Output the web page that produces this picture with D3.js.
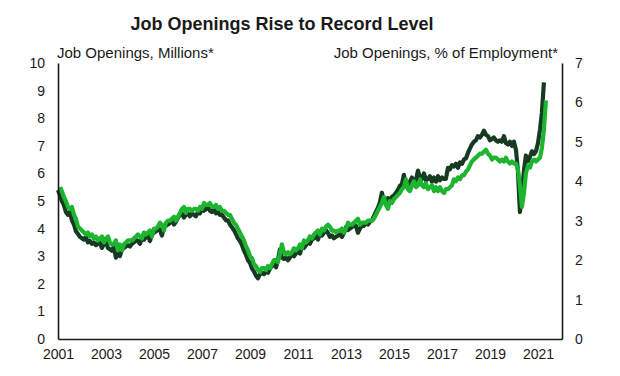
<!DOCTYPE html>
<html><head><meta charset="utf-8">
<script src="https://cdn.jsdelivr.net/npm/d3@7"></script>
<style>
body{margin:0;background:#fff}
text{font-family:"Liberation Sans",Arial,sans-serif;fill:#1a1a1a}
</style>
</head><body>
<svg id="c" width="620" height="376"></svg>
<script>
// ---- data ----
const firstMonth = "2001-01";   // monthly data Jan 2001 .. Apr 2021
const title = "Job Openings Rise to Record Level";
const leftLabel = "Job Openings, Millions*";
const rightLabel = "Job Openings, % of Employment*";
const xTickYears = [2001,2003,2005,2007,2009,2011,2013,2015,2017,2019,2021];
const leftTicks = [0,1,2,3,4,5,6,7,8,9,10];
const rightTicks = [0,1,2,3,4,5,6,7];

// Job openings, millions
const openings = [
 5.4,5.2,5.0,4.85,4.6,4.5,4.6,4.3,4.15,3.9,3.8,3.7,          // 2001
 3.65,3.6,3.7,3.5,3.55,3.45,3.5,3.4,3.45,3.5,3.3,3.45,       // 2002
 3.5,3.3,3.25,3.2,3.35,2.95,3.2,3.0,3.25,3.3,3.35,3.4,       // 2003
 3.35,3.45,3.5,3.6,3.55,3.45,3.65,3.6,3.7,3.75,3.55,3.8,     // 2004
 3.85,3.9,4.05,3.95,3.75,4.05,4.1,4.15,4.2,4.3,4.15,4.25,    // 2005
 4.4,4.5,4.55,4.4,4.5,4.55,4.45,4.55,4.5,4.45,4.6,4.55,      // 2006
 4.75,4.65,4.7,4.8,4.65,4.6,4.7,4.55,4.6,4.5,4.5,4.4,        // 2007
 4.3,4.3,4.15,4.05,3.95,3.8,3.65,3.55,3.4,3.2,3.05,2.85,     // 2008
 2.75,2.55,2.45,2.3,2.2,2.35,2.4,2.35,2.45,2.4,2.55,2.65,    // 2009
 2.7,2.6,2.85,3.25,2.95,2.9,2.95,2.85,2.95,3.1,3.0,3.1,      // 2010
 3.2,3.1,3.35,3.3,3.4,3.5,3.45,3.6,3.65,3.75,3.6,3.8,        // 2011
 3.75,3.85,3.95,3.85,3.7,3.75,3.65,3.7,3.75,3.8,3.7,3.85,    // 2012
 4.05,3.95,4.0,4.05,4.15,4.1,3.85,4.0,4.1,4.1,4.2,4.15,      // 2013
 4.25,4.3,4.45,4.6,4.75,4.95,5.3,5.0,4.95,5.1,5.05,5.15,     // 2014
 5.2,5.3,5.4,5.55,5.6,5.95,5.55,5.5,5.7,5.85,5.65,5.75,      // 2015
 6.1,5.85,5.8,6.0,5.75,5.8,5.9,5.7,5.85,5.7,5.9,5.75,        // 2016
 5.85,5.8,5.8,6.2,6.15,6.3,6.25,6.35,6.2,6.4,6.35,6.5,       // 2017
 6.55,6.75,6.9,7.05,7.15,7.2,7.35,7.3,7.4,7.55,7.4,7.35,     // 2018
 7.2,7.25,7.3,7.2,7.15,7.2,7.15,7.35,7.1,7.05,7.15,7.0,      // 2019
 7.15,6.85,6.1,4.6,5.3,6.1,6.65,6.45,6.6,6.8,6.7,6.8,        // 2020
 7.1,7.6,8.2,9.3                                             // 2021
];

// Job openings, % of employment
const rate = [
 3.85,3.75,3.6,3.5,3.35,3.3,3.35,3.15,3.05,2.85,2.8,2.75,    // 2001
 2.7,2.65,2.7,2.6,2.65,2.55,2.6,2.5,2.55,2.6,2.45,2.55,      // 2002
 2.6,2.45,2.4,2.4,2.5,2.25,2.4,2.25,2.4,2.45,2.5,2.5,        // 2003
 2.5,2.55,2.6,2.65,2.6,2.55,2.7,2.65,2.7,2.75,2.6,2.8,       // 2004
 2.8,2.85,2.95,2.9,2.75,2.95,3.0,3.0,3.05,3.1,3.0,3.1,       // 2005
 3.2,3.3,3.35,3.2,3.3,3.3,3.25,3.3,3.3,3.25,3.35,3.3,        // 2006
 3.45,3.4,3.4,3.45,3.35,3.35,3.4,3.3,3.35,3.25,3.25,3.2,     // 2007
 3.15,3.15,3.05,2.95,2.9,2.8,2.7,2.6,2.5,2.35,2.25,2.1,      // 2008
 2.05,1.9,1.85,1.75,1.7,1.8,1.8,1.75,1.85,1.8,1.9,2.0,       // 2009
 2.0,1.95,2.15,2.4,2.2,2.15,2.2,2.15,2.2,2.3,2.25,2.3,       // 2010
 2.4,2.3,2.5,2.45,2.5,2.6,2.55,2.65,2.7,2.75,2.65,2.8,       // 2011
 2.75,2.85,2.9,2.85,2.75,2.75,2.7,2.75,2.75,2.8,2.7,2.8,     // 2012
 2.95,2.9,2.9,2.95,3.0,3.05,2.9,2.95,2.95,2.95,3.0,3.0,      // 2013
 3.0,3.05,3.15,3.25,3.35,3.45,3.6,3.4,3.3,3.5,3.45,3.55,     // 2014
 3.6,3.65,3.7,3.8,3.85,4.05,3.8,3.75,3.9,4.0,3.85,3.9,       // 2015
 4.05,3.9,3.85,3.95,3.8,3.85,3.9,3.75,3.85,3.75,3.85,3.75,   // 2016
 3.7,3.8,3.8,3.85,3.9,4.05,4.0,4.1,4.05,4.15,4.15,4.25,      // 2017
 4.3,4.4,4.5,4.55,4.6,4.65,4.7,4.7,4.75,4.8,4.7,4.65,        // 2018
 4.55,4.6,4.6,4.55,4.5,4.55,4.5,4.6,4.5,4.45,4.5,4.45,       // 2019
 4.45,4.3,3.9,3.35,3.7,4.2,4.4,4.35,4.5,4.55,4.5,4.55,       // 2020
 4.6,4.85,5.3,6.05                                           // 2021
];

// ---- chart ----
const svg = d3.select("#c");
const W = 620, H = 376;
const m = {left:58, right:58, top:63, bottom:37};
const parse = d3.timeParse("%Y-%m");
const t0 = parse(firstMonth);
const months = openings.map((d,i) => d3.timeMonth.offset(t0, i));

const x = d3.scaleTime()
  .domain([parse("2001-01"), parse("2022-01")])
  .range([m.left, W - m.right]);
const yL = d3.scaleLinear().domain([0,10]).range([H - m.bottom, m.top]);
const yR = d3.scaleLinear().domain([0,7]).range([H - m.bottom, m.top]);

// lines
const lineL = d3.line().x((d,i)=>x(months[i])).y(d=>yL(d));
// rate series is dated at month end
const lineR = d3.line().x((d,i)=>x(d3.timeMonth.offset(months[i],1))).y(d=>yR(d));

svg.append("path").datum(openings).attr("d", lineL)
  .attr("fill","none").attr("stroke","#173a22").attr("stroke-width",4.2)
  .attr("stroke-linejoin","round");
svg.append("path").datum(rate).attr("d", lineR)
  .attr("fill","none").attr("stroke","#1db52f").attr("stroke-width",4.2)
  .attr("stroke-linejoin","round");

// axes
const fs = "14px";
const ax = svg.append("g").attr("transform",`translate(0,${H-m.bottom})`)
  .call(d3.axisBottom(x).tickValues(xTickYears.map(y=>new Date(y,0,1)))
        .tickFormat(d3.timeFormat("%Y")).tickSize(0).tickPadding(10));
ax.select(".domain").attr("stroke","#1a1a1a").attr("stroke-width",1.6);
ax.selectAll("text").style("font-size",fs).attr("fill","#1a1a1a");

const al = svg.append("g").attr("transform",`translate(${m.left},0)`)
  .call(d3.axisLeft(yL).tickValues(leftTicks).tickFormat(d3.format("d")).tickSize(0).tickPadding(13));
al.select(".domain").attr("stroke","#1a1a1a").attr("stroke-width",1.6);
al.selectAll("text").style("font-size",fs).attr("fill","#1a1a1a");

const ar = svg.append("g").attr("transform",`translate(${W-m.right},0)`)
  .call(d3.axisRight(yR).tickValues(rightTicks).tickFormat(d3.format("d")).tickSize(0).tickPadding(13));
ar.select(".domain").attr("stroke","#1a1a1a").attr("stroke-width",1.6);
ar.selectAll("text").style("font-size",fs).attr("fill","#1a1a1a");

// titles
svg.append("text").attr("x",282).attr("y",30).attr("text-anchor","middle")
  .style("font-size","18px").style("font-weight","bold").text(title);
svg.append("text").attr("x",57).attr("y",58).style("font-size","15px").text(leftLabel);
svg.append("text").attr("x",558).attr("y",58).attr("text-anchor","end")
  .style("font-size","15px").text(rightLabel);
</script>
</body></html>
